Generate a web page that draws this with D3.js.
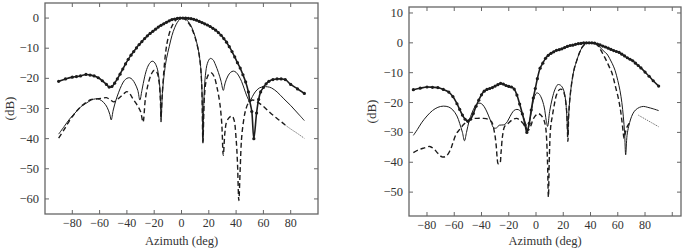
<!DOCTYPE html>
<html>
<head>
<meta charset="utf-8">
<script src="https://cdnjs.cloudflare.com/ajax/libs/d3/7.8.5/d3.min.js"></script>
<style>
  body { margin: 0; background: #fff; }
  text { font-family: "Liberation Serif", "DejaVu Serif", serif; fill: #333; }
</style>
</head>
<body>
<div id="chart"></div>
<script>
// ---- data: [azimuth deg, dB] ----
// left plot
const wideA = [[-90,-21.0],[-85,-20.2],[-80,-19.6],[-77,-19.4],[-74,-19.2],[-70,-18.7],[-67,-18.9],[-64,-19.2],[-61,-19.8],[-58,-20.8],[-55,-22.0],[-53,-22.9],[-51,-22.7],[-49,-21.6],[-47,-20.2],[-45,-18.6],[-43,-16.9],[-41,-15.2],[-39,-13.7],[-37,-12.3],[-35,-11.1],[-33,-9.9],[-31,-8.8],[-29,-7.8],[-27,-6.8],[-25,-5.9],[-23,-5.1],[-21,-4.4],[-19,-3.7],[-17,-3.0],[-15,-2.4],[-13,-1.9],[-11,-1.4],[-9,-0.9],[-7,-0.5],[-5,-0.3],[-3,-0.1],[-1,0],[1,0],[3,0],[5,-0.1],[7,-0.2],[9,-0.4],[11,-0.7],[13,-1.1],[15,-1.5],[17,-1.9],[19,-2.3],[21,-2.8],[23,-3.4],[25,-4.0],[27,-4.8],[29,-5.7],[31,-6.8],[33,-8.0],[35,-9.5],[37,-11.1],[39,-12.9],[41,-14.8],[43,-16.6],[45,-18.8],[47,-21.2],[49,-24.5],[50,-27.5],[51.5,-31],[53,-40],[55,-31.5],[56.5,-27],[58,-24.5],[60,-23],[62,-21.8],[64,-21],[67,-20.4],[70,-20.2],[73,-20.2],[76,-20.4],[80,-22],[85,-23.5],[90,-25]];
const solidA = [[-90,-38.5],[-86,-36],[-82,-33.5],[-78,-31.5],[-74,-29.5],[-70,-28.3],[-66,-27.2],[-63,-26.8],[-60,-27.0],[-57,-28.0],[-54.5,-29.6],[-52.5,-32],[-51.5,-33.8],[-50,-30.5],[-48,-27.2],[-46,-24.6],[-44,-22.4],[-42,-20.8],[-40,-20.0],[-38,-19.8],[-36,-20.4],[-34,-21.8],[-32,-24],[-30.5,-27.2],[-29,-24],[-27,-19.5],[-25,-16.4],[-23,-14.8],[-21.5,-14.3],[-20,-14.6],[-18,-16.4],[-16.5,-20],[-15.5,-26],[-15,-34.5],[-14,-25],[-12.5,-18],[-11,-13.5],[-9,-9.5],[-7,-5.8],[-5,-3.2],[-3,-1.4],[-1,-0.3],[1,0],[3,-0.3],[5,-1.2],[7,-2.6],[9,-4.8],[11,-7.8],[12.5,-11],[14,-16],[15,-24],[15.7,-41.5],[16.5,-26],[17.5,-19],[19,-15],[21,-13.4],[23,-13.8],[25,-15.6],[27,-18],[29,-21],[30.6,-24],[32,-21.5],[34,-19.2],[36,-18],[38,-17.6],[40,-18],[42,-19.2],[44,-21],[46,-23.5],[48,-26],[50,-27.5],[52,-26],[54,-24.5],[57,-23.2],[60,-22.8],[63,-22.8],[66,-23.2],[70,-24.5],[75,-26.8],[80,-29],[85,-31.5],[90,-34]];
const dashA = [[-90,-39.8],[-86,-37],[-82,-34],[-78,-31.5],[-74,-29.5],[-70,-28],[-66,-27],[-62,-26.8],[-58,-26.6],[-55,-26.4],[-52,-27.2],[-49.5,-27.8],[-47,-27],[-44.5,-26],[-42,-25],[-40,-24.4],[-38,-25],[-36,-26.5],[-33,-28.5],[-30,-31],[-28.2,-34.5],[-26.5,-27],[-24.5,-22],[-22,-18.5],[-20,-17.3],[-18,-18],[-16.5,-21],[-15.5,-27],[-15,-33],[-14.3,-27],[-13,-18],[-11.5,-11],[-10,-7],[-8,-3.8],[-6,-1.8],[-4,-0.6],[-2,-0.1],[0,0],[2,-0.3],[4,-1],[6,-2.2],[8,-4],[10,-6.5],[12,-10],[13.5,-14],[14.8,-22],[15.7,-41],[16.8,-26],[18,-21],[20,-18.6],[22,-18.2],[24,-19.5],[26,-23],[28,-28],[29.5,-35],[30.6,-45.5],[31.8,-38],[33,-34.5],[35,-33],[37,-32.5],[38.5,-33.8],[40,-40],[41,-48],[42,-60.5],[43,-50],[44,-40],[45.5,-34],[47,-30.5],[49,-28.2],[52,-27.2],[56,-28],[60,-29.3],[64,-31],[68,-32.6],[72,-34],[76,-35.5]];
const tailA = [[76,-35.5],[80,-36.8],[85,-38.3],[90,-39.9]];

// right plot
const wideB = [[-90,-15.7],[-85,-15.2],[-80,-14.8],[-76,-14.9],[-72,-15],[-68,-15.6],[-64,-16.5],[-61,-18],[-58,-20.4],[-56,-22.3],[-54,-24.2],[-52,-25.6],[-50,-26.3],[-48,-25.6],[-46,-23.7],[-44,-21.2],[-42,-19.2],[-40,-17.4],[-38,-16.2],[-36,-15.6],[-34,-15.3],[-32,-15],[-30,-14.5],[-28,-14],[-26,-13.6],[-24,-13.8],[-22,-14.3],[-20,-14.6],[-18,-14.8],[-16,-15.5],[-14,-17.5],[-12,-20.5],[-10,-23.8],[-8,-27.5],[-6.7,-30],[-5,-27],[-3.5,-22.5],[-2,-18.5],[-0.5,-15.3],[1,-12],[3,-8.5],[5,-6.8],[7,-5.2],[9,-4.2],[11,-3.5],[13,-3],[15,-2.5],[17,-2.3],[19,-2],[21,-1.6],[23,-1.2],[25,-0.9],[27,-0.8],[29,-0.5],[31,-0.3],[33,-0.2],[35,0],[37,0],[39,0],[41,0],[43,-0.1],[45,-0.4],[47,-0.7],[49,-1.1],[51,-1.4],[53,-1.8],[55,-2.2],[57,-2.6],[59,-2.9],[61,-3.2],[63,-3.8],[65,-4.4],[67,-5],[69,-5.5],[71,-6],[73,-6.8],[75,-7.6],[77,-8.4],[80,-9.8],[83,-11.2],[86,-12.7],[90,-14.5]];
const solidB = [[-90,-31],[-87,-29],[-84,-26.8],[-80,-24.5],[-76,-22.7],[-72,-21.6],[-68,-21.2],[-64,-21.5],[-61,-22.5],[-58,-24.5],[-56,-27],[-54,-30],[-52.5,-32.8],[-51,-30],[-49,-26],[-47,-23.5],[-45,-21.5],[-43,-20.4],[-41,-20.2],[-39,-20.8],[-37,-22.2],[-35,-24.2],[-33,-26.5],[-31,-28.5],[-29,-28.5],[-27,-27.6],[-24,-27.5],[-22,-27],[-20,-25.5],[-18,-23.8],[-16,-22.6],[-14,-22.3],[-12,-22.6],[-10,-24],[-8,-26.5],[-6.3,-29.8],[-5,-27],[-3,-22],[-1.5,-18.5],[0.5,-16.8],[2,-17],[4,-18.5],[6,-21.5],[7.5,-26],[8.5,-28],[10,-23],[12,-18.5],[14,-15.5],[16,-14],[18,-14.2],[20,-15.5],[21.5,-18.5],[22.7,-25],[23.3,-31],[24,-24],[25,-18],[26.5,-12.5],[28,-8.8],[30,-5.8],[32,-3.2],[34,-1.4],[36,-0.4],[38,0],[40,0],[42,-0.1],[44,-0.3],[46,-1],[48,-2],[50,-2.9],[52,-3.7],[54,-5.2],[56,-7],[58,-9.2],[60,-12.6],[61.6,-15.9],[63,-20],[64.1,-24.8],[65,-30],[65.8,-37.5],[66.8,-31],[68,-28],[69.5,-25.5],[71,-23.8],[73,-22.5],[76,-21.6],[79,-21.3],[82,-21.6],[86,-22.1],[90,-22.7]];
const dashB = [[-90,-36.8],[-86,-35.8],[-82,-35.2],[-78,-34.7],[-75,-35.5],[-72,-37],[-69,-38.2],[-66,-38],[-63,-36],[-61,-33.5],[-58.5,-30.5],[-56,-29],[-53,-27.3],[-50,-26],[-47,-25.4],[-43,-25.3],[-39,-25.3],[-35,-25.6],[-32.5,-26.5],[-30.5,-30],[-29.3,-34],[-28.5,-38.5],[-27.8,-40.5],[-26.6,-40.5],[-25.7,-37],[-24.5,-31],[-23,-28],[-20.5,-27],[-17.5,-25.8],[-14.3,-25.3],[-11.5,-26],[-9.5,-27],[-7.5,-28.5],[-5.6,-29.2],[-4,-28],[-2,-25.5],[0,-24.2],[1.7,-23.7],[3.5,-24.2],[5.5,-25.5],[7,-28],[8.3,-38],[9.1,-51.6],[9.8,-38],[10.8,-28],[12,-24.5],[13.5,-20.5],[15,-17.5],[16.5,-16],[18,-15.5],[19.5,-15.8],[21,-17.5],[22.5,-23],[23.4,-33],[24,-24],[25,-18],[26.5,-12.5],[28,-8.8],[30,-5.8],[32,-3.2],[34,-1.4],[36,-0.4],[38,0],[40,0],[42,-0.1],[44,-0.3],[46,-1.3],[48,-2.8],[50,-4.5],[52,-6.3],[54,-8.3],[55.5,-9.8],[57,-12.2],[58.5,-15],[60.4,-18.5],[62,-22.5],[63,-26],[64,-30],[64.6,-32],[65.4,-30.5],[66.5,-28.5],[68,-27.2],[70,-26.2]];
const tailB = [[75,-24.2],[80,-25.5],[85,-26.8],[90,-28.1]];

const xTicksA = [-80, -60, -40, -20, 0, 20, 40, 60, 80];
const xTicksB = [-80, -60, -40, -20, 0, 20, 40, 60, 80, 100];
const yTicksA = [0, -10, -20, -30, -40, -50, -60];
const yTicksB = [10, 0, -10, -20, -30, -40, -50];

const W = 685, H = 251;
const svg = d3.select("#chart").append("svg")
    .attr("width", W)
    .attr("height", H);

const ink = "#1c1c1c";
const axisCol = "#666";
const fmt = t => String(t).replace("-", "\u2212");

// one panel = box + ticks + labels + the four curves
function drawPanel(p) {
    const x = d3.scaleLinear().domain(p.xDomain).range([p.left, p.right]);
    const y = d3.scaleLinear().domain(p.yDomain).range([p.bottom, p.top]);
    const g = svg.append("g");

    const line = d3.line()
        .x(d => x(d[0]))
        .y(d => y(d[1]))
        .curve(d3.curveCatmullRom.alpha(0.5));

    // curves
    g.append("path").datum(p.dash)
        .attr("d", line).attr("fill", "none")
        .attr("stroke", ink).attr("stroke-width", 1.4)
        .attr("stroke-dasharray", "5,3");
    g.append("path").datum(p.tail)
        .attr("d", line).attr("fill", "none")
        .attr("stroke", "#555").attr("stroke-width", 0.8)
        .attr("stroke-dasharray", "1.5,1");
    g.append("path").datum(p.solid)
        .attr("d", line).attr("fill", "none")
        .attr("stroke", ink).attr("stroke-width", 1);
    g.append("path").datum(p.wide)
        .attr("d", line).attr("fill", "none")
        .attr("stroke", ink).attr("stroke-width", 1.6);
    g.selectAll("circle.mk").data(p.wide).enter().append("circle")
        .attr("class", "mk")
        .attr("cx", d => x(d[0]))
        .attr("cy", d => y(d[1]))
        .attr("r", 1.6)
        .attr("fill", ink);

    // frame
    g.append("rect")
        .attr("x", p.left).attr("y", p.top)
        .attr("width", p.right - p.left).attr("height", p.bottom - p.top)
        .attr("fill", "none").attr("stroke", axisCol).attr("stroke-width", 1.3);

    // inward ticks on all four sides
    const tl = 4;
    p.xTicks.forEach(t => {
        const px = x(t);
        g.append("line").attr("x1", px).attr("x2", px)
            .attr("y1", p.bottom).attr("y2", p.bottom - tl)
            .attr("stroke", axisCol);
        g.append("line").attr("x1", px).attr("x2", px)
            .attr("y1", p.top).attr("y2", p.top + tl)
            .attr("stroke", axisCol);
        if (t !== 100) {
            g.append("text").attr("x", px).attr("y", p.bottom + 13)
                .attr("text-anchor", "middle").attr("font-size", 12)
                .text(fmt(t));
        }
    });
    p.yTicks.forEach(t => {
        const py = y(t);
        g.append("line").attr("x1", p.left).attr("x2", p.left + tl)
            .attr("y1", py).attr("y2", py).attr("stroke", axisCol);
        g.append("line").attr("x1", p.right).attr("x2", p.right - tl)
            .attr("y1", py).attr("y2", py).attr("stroke", axisCol);
        g.append("text").attr("x", p.left - 6).attr("y", py + 4)
            .attr("text-anchor", "end").attr("font-size", 12.5)
            .text(fmt(t));
    });

    // axis titles
    g.append("text")
        .attr("x", (p.left + p.right) / 2).attr("y", 245)
        .attr("text-anchor", "middle").attr("font-size", 12.5)
        .text("Azimuth (deg)");
    g.append("text")
        .attr("transform", "translate(" + p.yLabelX + "," + (p.top + p.bottom) / 2 + ") rotate(-90)")
        .attr("text-anchor", "middle").attr("font-size", 13)
        .text("(dB)");
}

drawPanel({
    left: 45, right: 318, top: 3, bottom: 214,
    xDomain: [-100, 100], yDomain: [-65, 5],
    xTicks: xTicksA, yTicks: yTicksA, yLabelX: 14,
    wide: wideA, solid: solidA, dash: dashA, tail: tailA
});
drawPanel({
    left: 409, right: 681, top: 7, bottom: 216,
    xDomain: [-93.2, 106.4], yDomain: [-58, 12],
    xTicks: xTicksB, yTicks: yTicksB, yLabelX: 376,
    wide: wideB, solid: solidB, dash: dashB, tail: tailB
});
</script>
</body>
</html>
